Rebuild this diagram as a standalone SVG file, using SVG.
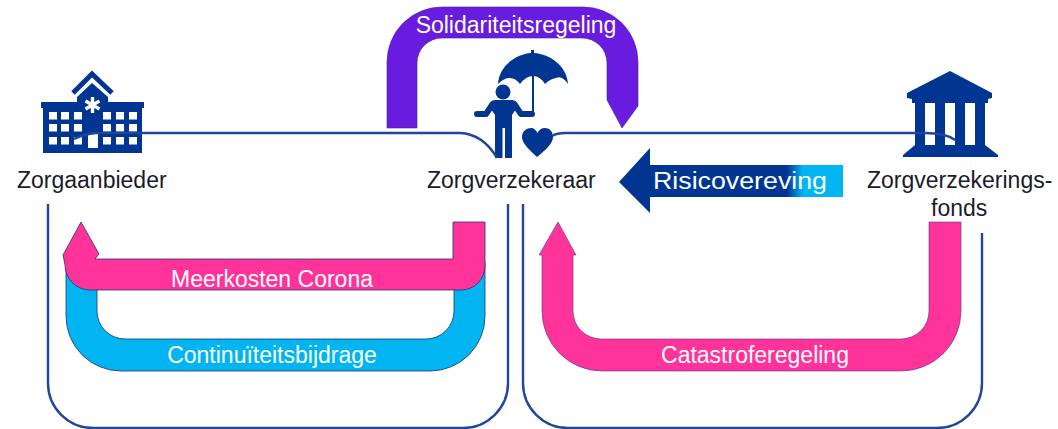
<svg xmlns="http://www.w3.org/2000/svg" width="1058" height="429" viewBox="0 0 1058 429">
<defs>
<linearGradient id="risk" gradientUnits="userSpaceOnUse" x1="619" y1="0" x2="843" y2="0">
<stop offset="0" stop-color="#003592"/><stop offset="0.75" stop-color="#003592"/><stop offset="0.82" stop-color="#00B5F1"/><stop offset="1" stop-color="#00B5F1"/>
</linearGradient>
</defs>
<style>
text{font-family:"Liberation Sans",Arial,sans-serif;font-size:23px}
.dark{fill:#1b1b2b}
.light{fill:#fff;text-anchor:middle}
.icon{fill:#003592}
.win{fill:#fff}
.line{fill:none;stroke:#1f459c;stroke-width:2.4}
.flow{stroke:#1d3575;stroke-width:.8}
.limb{fill:none;stroke:#003592;stroke-linecap:round;stroke-linejoin:round}
</style>
<rect width="1058" height="429" fill="#fff"/>
<g id="zorgaanbieder">
<path class="icon" d="M41 102H77V97L92 83L108 97V102H144V108H142V153H43V108H41Z"/>
<path d="M73 93L92 74L112 93" fill="none" stroke="#003592" stroke-width="5"/>
<g class="win">
<rect x="49" y="112" width="8" height="7.5"/><rect x="61" y="112" width="8" height="7.5"/><rect x="74" y="112" width="8" height="7.5"/>
<rect x="49" y="124" width="8" height="7.5"/><rect x="61" y="124" width="8" height="7.5"/><rect x="74" y="124" width="8" height="7.5"/>
<rect x="49" y="137" width="8" height="7.5"/><rect x="61" y="137" width="8" height="7.5"/><rect x="74" y="137" width="8" height="7.5"/>
<rect x="103" y="112" width="8" height="7.5"/><rect x="116" y="112" width="8" height="7.5"/><rect x="129" y="112" width="8" height="7.5"/>
<rect x="103" y="124" width="8" height="7.5"/><rect x="116" y="124" width="8" height="7.5"/><rect x="129" y="124" width="8" height="7.5"/>
<rect x="103" y="137" width="8" height="7.5"/><rect x="116" y="137" width="8" height="7.5"/><rect x="129" y="137" width="8" height="7.5"/>
<rect x="88" y="134" width="10" height="14"/>
</g>
<path d="M92.500 97V113M85.500 101L99.500 109M85.500 109L99.500 101" stroke="#fff" stroke-width="3.400" fill="none"/>
<text class="dark" x="17" y="188">Zorgaanbieder</text>
</g>
<g id="zorgverzekeraar">
<path class="icon" d="M498 84C499 66 516 54 531 53V50H534V53C550 54 567 66 568 84Q562 75 556 78Q550 79 545 84Q540 76 533 76Q526 76 520 84Q515 77 508 78Q503 79 498 84Z"/>
<path class="limb" stroke-width="2" d="M533 76V111Q533 114 530 114"/>
<circle class="icon" cx="503" cy="92" r="7.500"/>
<path class="limb" stroke-width="6" d="M492 105L486 114H477M515 105L521 114H532"/>
<path class="icon" d="M495 100Q490 100 489 106L495 115V158H502.500V128H505V158H512V115L518 106Q517 100 512 100Z"/>
<path class="icon" d="M537 157C530 150 522 144 522 137C522 131 527 128 531 128C534 128 536 130 537.500 133C539 130 541 128 545 128C550 128 553 132 553 137C553 144 545 150 537 157Z"/>
<text class="dark" x="427" y="188">Zorgverzekeraar</text>
</g>
<g id="zorgverzekeringsfonds">
<path class="icon" d="M950 71L992 93V98L988 99V103H985V145L998 155V157H903V155L915 145V103H912V99L907 98V93Z"/>
<g class="win"><rect x="925" y="103" width="10" height="42"/><rect x="945" y="103" width="10" height="42"/><rect x="965" y="103" width="10" height="42"/></g>
<text class="dark" x="867" y="188">Zorgverzekerings-</text>
<text class="dark" x="931" y="216">fonds</text>
</g>
<g id="connectors">
<path class="line" d="M74 139Q84 134 96 133H460Q483 134 497 158"/>
<path class="line" d="M552 136Q557 133 565 133H925Q946 133 955 140"/>
<path class="line" d="M48 204V383A45 45 0 0 0 93 428H463A45 45 0 0 0 508 383V204"/>
<path class="line" d="M523 204V383A45 45 0 0 0 568 428H937A45 45 0 0 0 982 383V233"/>
</g>
<g id="solidariteitsregeling">
<path d="M387 128V62A55 55 0 0 1 442 7H583A55 55 0 0 1 638 62V106L622 128L607 100V63A25 25 0 0 0 582 38H442A25 25 0 0 0 417 63V128Z" fill="#6A1BE0" stroke="#3a2a9a" stroke-width=".6"/>
<text class="light" x="516" y="33">Solidariteitsregeling</text>
</g>
<g id="risicovereving">
<path d="M619 182L650 148V165H843V197H650V213Z" fill="url(#risk)"/>
<text class="light" x="740" y="189" textLength="174" lengthAdjust="spacingAndGlyphs">Risicovereving</text>
</g>
<g id="continuiteitsbijdrage">
<path class="flow" d="M66 262V316A55 55 0 0 0 121 371H430A55 55 0 0 0 485 316V262H454V311A28 28 0 0 1 426 339H125A28 28 0 0 1 97 311V262Z" fill="#00B5F1"/>
<text class="light" x="272" y="363">Continuïteitsbijdrage</text>
</g>
<g id="meerkosten">
<path class="flow" d="M81 222L99 254L95 259H453V222H485V266A24 24 0 0 1 461 290H90A25 25 0 0 1 65 265L63 255Z" fill="#FF3399"/>
<text class="light" x="272" y="287">Meerkosten Corona</text>
</g>
<g id="catastroferegeling">
<path d="M558 222L576 255H573V311A28 28 0 0 0 601 339H901A28 28 0 0 0 929 311V222H961V311A60 60 0 0 1 901 371H602A60 60 0 0 1 542 311V255H539Z" fill="#FF3399" stroke="#4a3a9a" stroke-width=".6"/>
<text class="light" x="755" y="363">Catastroferegeling</text>
</g>
</svg>
